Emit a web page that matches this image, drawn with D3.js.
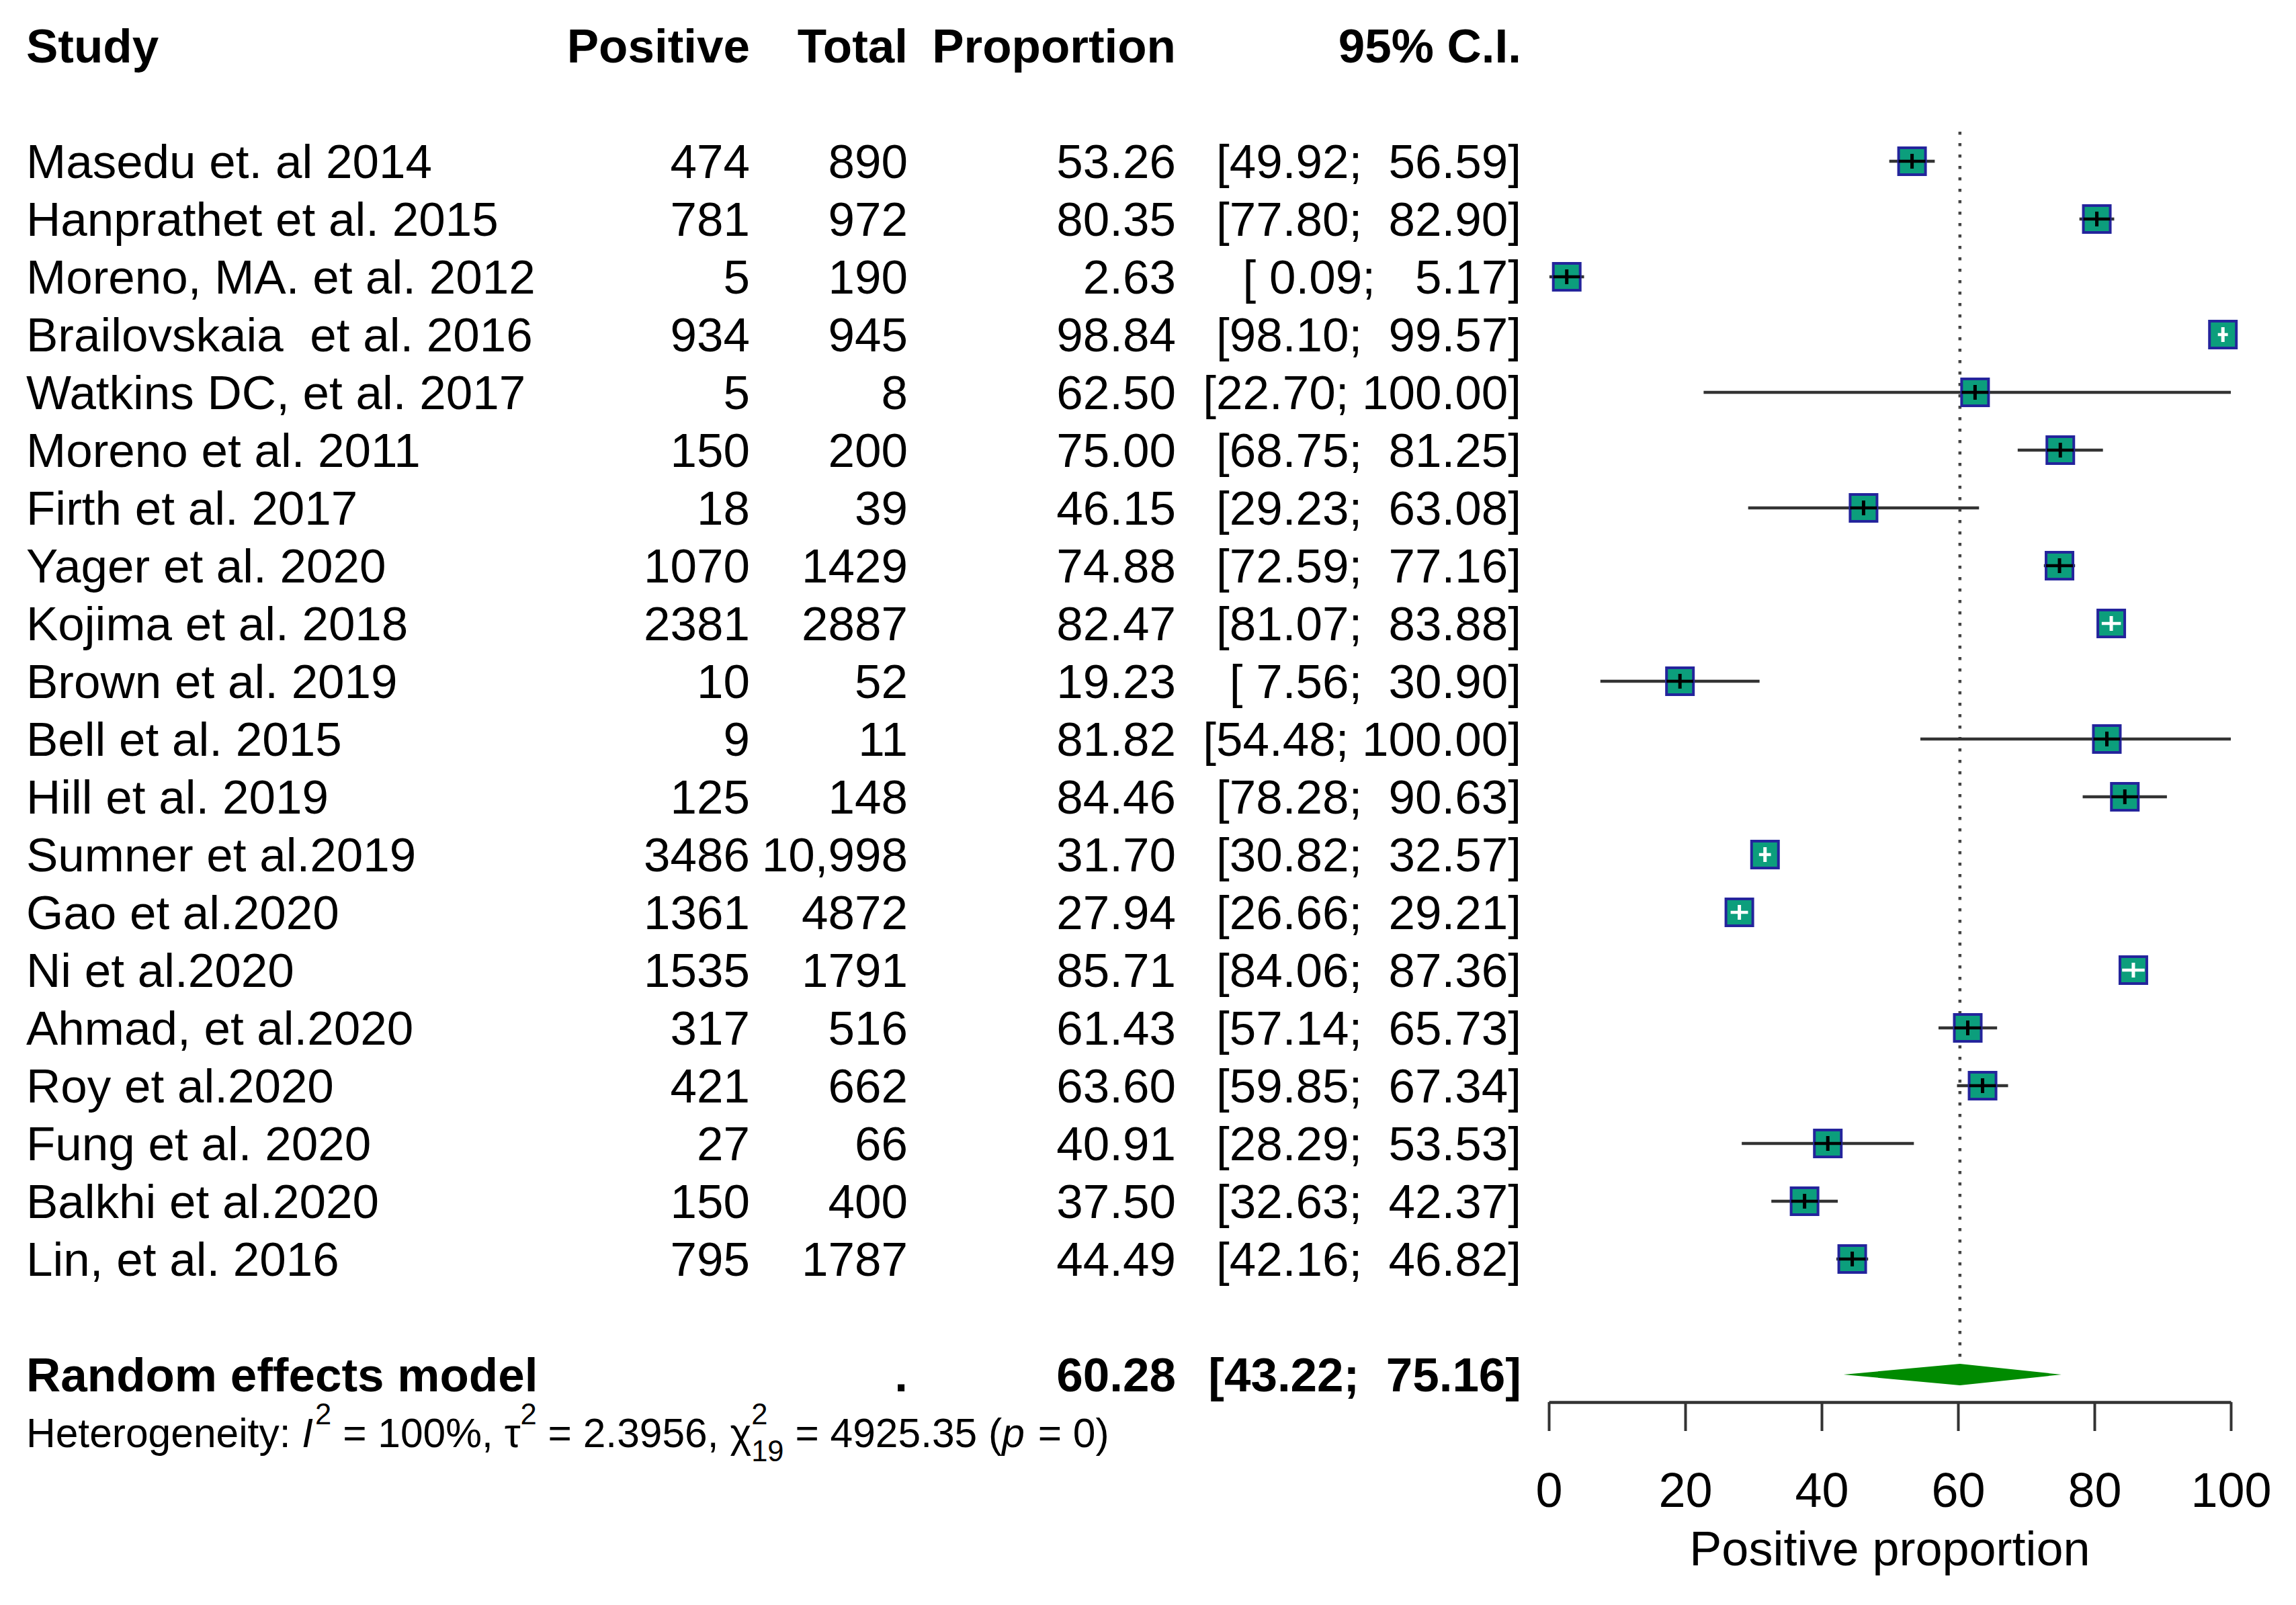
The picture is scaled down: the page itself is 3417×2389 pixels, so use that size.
<!DOCTYPE html>
<html>
<head>
<meta charset="utf-8">
<script src="https://cdn.jsdelivr.net/npm/d3@7"></script>
<style>
  html, body { margin: 0; padding: 0; background: #fff; }
  text { font-family: "Liberation Sans", Arial, sans-serif; white-space: pre; }
</style>
</head>
<body>
<div id="chart"></div>
<script>
/* data */
var studies = ["Masedu et. al 2014", "Hanprathet et al. 2015", "Moreno, MA. et al. 2012",
  "Brailovskaia  et al. 2016", "Watkins DC, et al. 2017", "Moreno et al. 2011",
  "Firth et al. 2017", "Yager et al. 2020", "Kojima et al. 2018", "Brown et al. 2019",
  "Bell et al. 2015", "Hill et al. 2019", "Sumner et al.2019", "Gao et al.2020",
  "Ni et al.2020", "Ahmad, et al.2020", "Roy et al.2020", "Fung et al. 2020",
  "Balkhi et al.2020", "Lin, et al. 2016"];
var positive = [474, 781, 5, 934, 5, 150, 18, 1070, 2381, 10, 9, 125, 3486, 1361, 1535, 317, 421, 27, 150, 795];
var total = [890, 972, 190, 945, 8, 200, 39, 1429, 2887, 52, 11, 148, 10998, 4872, 1791, 516, 662, 66, 400, 1787];
var proportion = [53.26, 80.35, 2.63, 98.84, 62.50, 75.00, 46.15, 74.88, 82.47, 19.23, 81.82, 84.46, 31.70, 27.94, 85.71, 61.43, 63.60, 40.91, 37.50, 44.49];
var lower = [49.92, 77.80, 0.09, 98.10, 22.70, 68.75, 29.23, 72.59, 81.07, 7.56, 54.48, 78.28, 30.82, 26.66, 84.06, 57.14, 59.85, 28.29, 32.63, 42.16];
var upper = [56.59, 82.90, 5.17, 99.57, 100.00, 81.25, 63.08, 77.16, 83.88, 30.90, 100.00, 90.63, 32.57, 29.21, 87.36, 65.73, 67.34, 53.53, 42.37, 46.82];
var pooled = [60.28, 43.22, 75.16];   // estimate, lower, upper
var headers = ["Study", "Positive", "Total", "Proportion", "95% C.I."];
var xTicks = [0, 20, 40, 60, 80, 100];

var W = 3417, H = 2389;
var fs = 71;
var font = "'Liberation Sans', Arial, sans-serif";

var svg = d3.select("#chart").append("svg")
  .attr("width", W).attr("height", H)
  .attr("xml:space", "preserve");
svg.append("rect").attr("width", W).attr("height", H).attr("fill", "#fff");

var x = d3.scaleLinear().domain([0, 100]).range([2305, 3320]);
var row = d3.scaleLinear().domain([0, 19]).range([240, 1874]);
var base = function(i){ return row(i) + 0.358 * fs; };

// column right edges (first is left aligned)
var colX = [39, 1116, 1351, 1750, 2264];

var f2 = function(v){ return v.toFixed(2); };
var ciText = function(lo, hi){
  return "[" + f2(lo).padStart(5, " ") + "; " + f2(hi).padStart(6, " ") + "]";
};
var totText = function(n){ return n >= 10000 ? d3.format(",")(n) : String(n); };

// headers
svg.selectAll("text.head")
  .data(headers)
  .enter()
  .append("text")
  .attr("class", "head")
  .attr("x", function(d, i){ return colX[i]; })
  .attr("y", base(-2))
  .attr("text-anchor", function(d, i){ return i == 0 ? "start" : "end"; })
  .attr("font-size", fs).attr("font-weight", "bold")
  .text(function(d){ return d; });

// study rows
var rows = svg.selectAll("g.row")
  .data(studies)
  .enter()
  .append("g")
  .attr("class", "row");

rows.each(function(d, i){
  var g = d3.select(this);
  var cells = [d, String(positive[i]), totText(total[i]), f2(proportion[i]), ciText(lower[i], upper[i])];
  g.selectAll("text")
    .data(cells)
    .enter()
    .append("text")
    .attr("x", function(c, j){ return colX[j]; })
    .attr("y", base(i))
    .attr("text-anchor", function(c, j){ return j == 0 ? "start" : "end"; })
    .attr("font-size", fs)
    .text(function(c){ return c; });
});

// reference line at pooled estimate
svg.append("line")
  .attr("x1", x(pooled[0])).attr("x2", x(pooled[0]))
  .attr("y1", 196).attr("y2", row(21) - 16)
  .attr("stroke", "#444").attr("stroke-width", 4.5)
  .attr("stroke-dasharray", "4.5,12.5");

// confidence intervals + squares
var sq = 40, sqOuter = 44;
var marks = svg.selectAll("g.mark")
  .data(proportion)
  .enter()
  .append("g")
  .attr("class", "mark");

marks.append("line")
  .attr("x1", function(d, i){ return x(lower[i]); })
  .attr("x2", function(d, i){ return x(upper[i]); })
  .attr("y1", function(d, i){ return row(i); })
  .attr("y2", function(d, i){ return row(i); })
  .attr("stroke", "#333").attr("stroke-width", 4.5);

marks.append("rect")
  .attr("x", function(d){ return x(d) - sq / 2; })
  .attr("y", function(d, i){ return row(i) - sq / 2; })
  .attr("width", sq).attr("height", sq)
  .attr("fill", "#0c9e7c")
  .attr("stroke", "#24249c").attr("stroke-width", 4);

var inside = function(i){ return (x(upper[i]) - x(lower[i])) < sqOuter ? "#fff" : "#000"; };

marks.append("line")
  .attr("x1", function(d, i){ return Math.max(x(lower[i]), x(d) - sq / 2); })
  .attr("x2", function(d, i){ return Math.min(x(upper[i]), x(d) + sq / 2); })
  .attr("y1", function(d, i){ return row(i); })
  .attr("y2", function(d, i){ return row(i); })
  .attr("stroke", function(d, i){ return inside(i); })
  .attr("stroke-width", 4.5);

marks.append("line")
  .attr("x1", function(d){ return x(d); })
  .attr("x2", function(d){ return x(d); })
  .attr("y1", function(d, i){ return row(i) - 11; })
  .attr("y2", function(d, i){ return row(i) + 11; })
  .attr("stroke", function(d, i){ return inside(i); })
  .attr("stroke-width", 5);

// pooled row
var yp = row(21);
var pooledCells = ["Random effects model", "", ".", f2(pooled[0]), ciText(pooled[1], pooled[2])];
svg.selectAll("text.pool")
  .data(pooledCells)
  .enter()
  .append("text")
  .attr("class", "pool")
  .attr("x", function(d, i){ return colX[i]; })
  .attr("y", yp + 0.358 * fs)
  .attr("text-anchor", function(d, i){ return i == 0 ? "start" : "end"; })
  .attr("font-size", fs).attr("font-weight", "bold")
  .text(function(d){ return d; });

var dh = 16;
svg.append("polygon")
  .attr("points", [[x(pooled[1]), yp], [x(pooled[0]), yp - dh], [x(pooled[2]), yp], [x(pooled[0]), yp + dh]]
    .map(function(p){ return p.join(","); }).join(" "))
  .attr("fill", "#008b00");

// heterogeneity line
var hfs = 60.5;
var hetParts = [
  {t: "Heterogeneity: "}, {t: "I", it: true}, {t: "2", sup: true}, {t: " = 100%, "},
  {t: "\u03c4"}, {t: "2", sup: true}, {t: " = 2.3956, "},
  {t: "\u03c7"}, {t: "2", sup: true, sub: "19"}, {t: " = 4925.35 ("},
  {t: "p", it: true}, {t: " = 0)"}
];
var hb = row(22) + 0.358 * hfs;
var cx = 39;
hetParts.forEach(function(p){
  var small = p.sup || p.sub;
  var t = svg.append("text")
    .attr("x", cx)
    .attr("y", p.sup ? hb - 0.55 * hfs : hb)
    .attr("font-size", small ? hfs * 0.72 : hfs)
    .attr("font-style", p.it ? "italic" : null)
    .text(p.t);
  var w = t.node().getComputedTextLength();
  if (p.sub) {
    var s = svg.append("text")
      .attr("x", cx)
      .attr("y", hb + 0.36 * hfs)
      .attr("font-size", hfs * 0.72)
      .text(p.sub);
    w = Math.max(w, s.node().getComputedTextLength());
  }
  cx += w + (p.it ? 3 : 0);
});

// x axis
var axis = d3.axisBottom(x)
  .tickValues(xTicks)
  .tickSize(43)
  .tickSizeOuter(0)
  .tickPadding(62);

var ax = svg.append("g")
  .attr("transform", "translate(0," + 2087 + ")")
  .call(axis);
ax.select(".domain").attr("stroke", "#333").attr("stroke-width", 4.5);
ax.selectAll(".tick line").attr("stroke", "#333").attr("stroke-width", 4);
ax.selectAll(".tick text")
  .attr("font-size", 72).attr("font-family", font).attr("fill", "#000");

svg.append("text")
  .attr("x", (x(0) + x(100)) / 2)
  .attr("y", 2330)
  .attr("text-anchor", "middle")
  .attr("font-size", 72)
  .text("Positive proportion");
</script>
</body>
</html>
